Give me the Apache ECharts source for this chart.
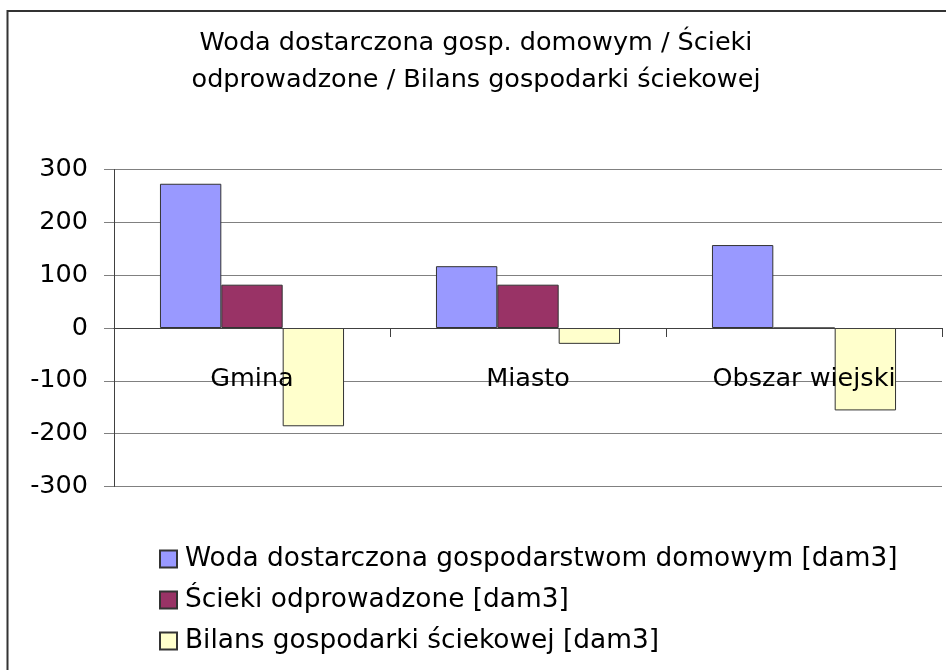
<!DOCTYPE html>
<html>
<head>
<meta charset="utf-8">
<script src="https://cdn.jsdelivr.net/npm/echarts@6/dist/echarts.min.js"></script>
<style>
html,body{margin:0;padding:0;background:#fff;}
#chart{width:946px;height:670px;}
</style>
</head>
<body>
<div id="chart"></div>
<script>
const categories = ['Gmina', 'Miasto', 'Obszar wiejski'];
const seriesNames = [
  'Woda dostarczona gospodarstwom domowym [dam3]',
  'Ścieki odprowadzone [dam3]',
  'Bilans gospodarki ściekowej [dam3]'
];
const wodaValues = [273, 117, 157];
const sciekiValues = [82, 82, 0];
const bilansValues = [-186, -30, -156];
const yTicks = { min: -300, max: 300, interval: 100 };
const colors = ['#9999FF', '#993366', '#FFFFCC'];

const FONT = 'DejaVu Sans';
const FS = 25.5;

const chart = echarts.init(document.getElementById('chart'));
const valuesList = [wodaValues, sciekiValues, bilansValues];

chart.setOption({
  animation: false,
  backgroundColor: '#ffffff',
  graphic: [{
    type: 'rect',
    shape: { x: 7.5, y: 11, width: 2000, height: 2000 },
    style: { fill: 'none', stroke: '#333333', lineWidth: 2 },
    silent: true,
    z: 100
  }],
  title: {
    text: 'Woda dostarczona gosp. domowym / Ścieki\nodprowadzone / Bilans gospodarki ściekowej',
    left: 476,
    top: 25,
    textAlign: 'center',
    padding: 0,
    textStyle: {
      fontFamily: FONT,
      fontSize: FS,
      fontWeight: 'normal',
      color: '#000',
      lineHeight: 37
    }
  },
  legend: {
    orient: 'vertical',
    left: 159,
    top: 546,
    padding: 0,
    itemWidth: 17,
    itemHeight: 17,
    itemGap: 15,
    icon: 'rect',
    textStyle: {
      fontFamily: FONT,
      fontSize: 26.4,
      color: '#000',
      lineHeight: 26,
      padding: [0, 0, 0, 3]
    },
    data: seriesNames
  },
  grid: {
    left: 114,
    right: 4,
    top: 169.5,
    bottom: 183.5,
    containLabel: false
  },
  xAxis: {
    type: 'category',
    data: categories,
    z: 10,
    axisLine: { onZero: true, lineStyle: { color: '#404040', width: 1 } },
    axisTick: { show: true, alignWithLabel: false, length: 9, lineStyle: { color: '#404040' } },
    axisLabel: {
      fontFamily: FONT,
      fontSize: FS,
      color: '#000',
      margin: -120,
      interval: 0
    },
    splitLine: { show: false }
  },
  yAxis: {
    type: 'value',
    min: yTicks.min,
    max: yTicks.max,
    interval: yTicks.interval,
    axisLine: { show: true, lineStyle: { color: '#404040', width: 1 } },
    axisTick: { show: true, length: 10, lineStyle: { color: '#808080' } },
    axisLabel: {
      fontFamily: FONT,
      fontSize: FS,
      color: '#000',
      margin: 26
    },
    splitLine: { show: true, lineStyle: { color: '#808080', width: 1 } }
  },
  series: seriesNames.map((name, i) => ({
    name: name,
    type: 'bar',
    data: valuesList[i],
    barGap: '0%',
    barCategoryGap: '33.3%',
    itemStyle: { color: colors[i], borderColor: '#333333', borderWidth: 1 }
  }))
});
</script>
</body>
</html>
